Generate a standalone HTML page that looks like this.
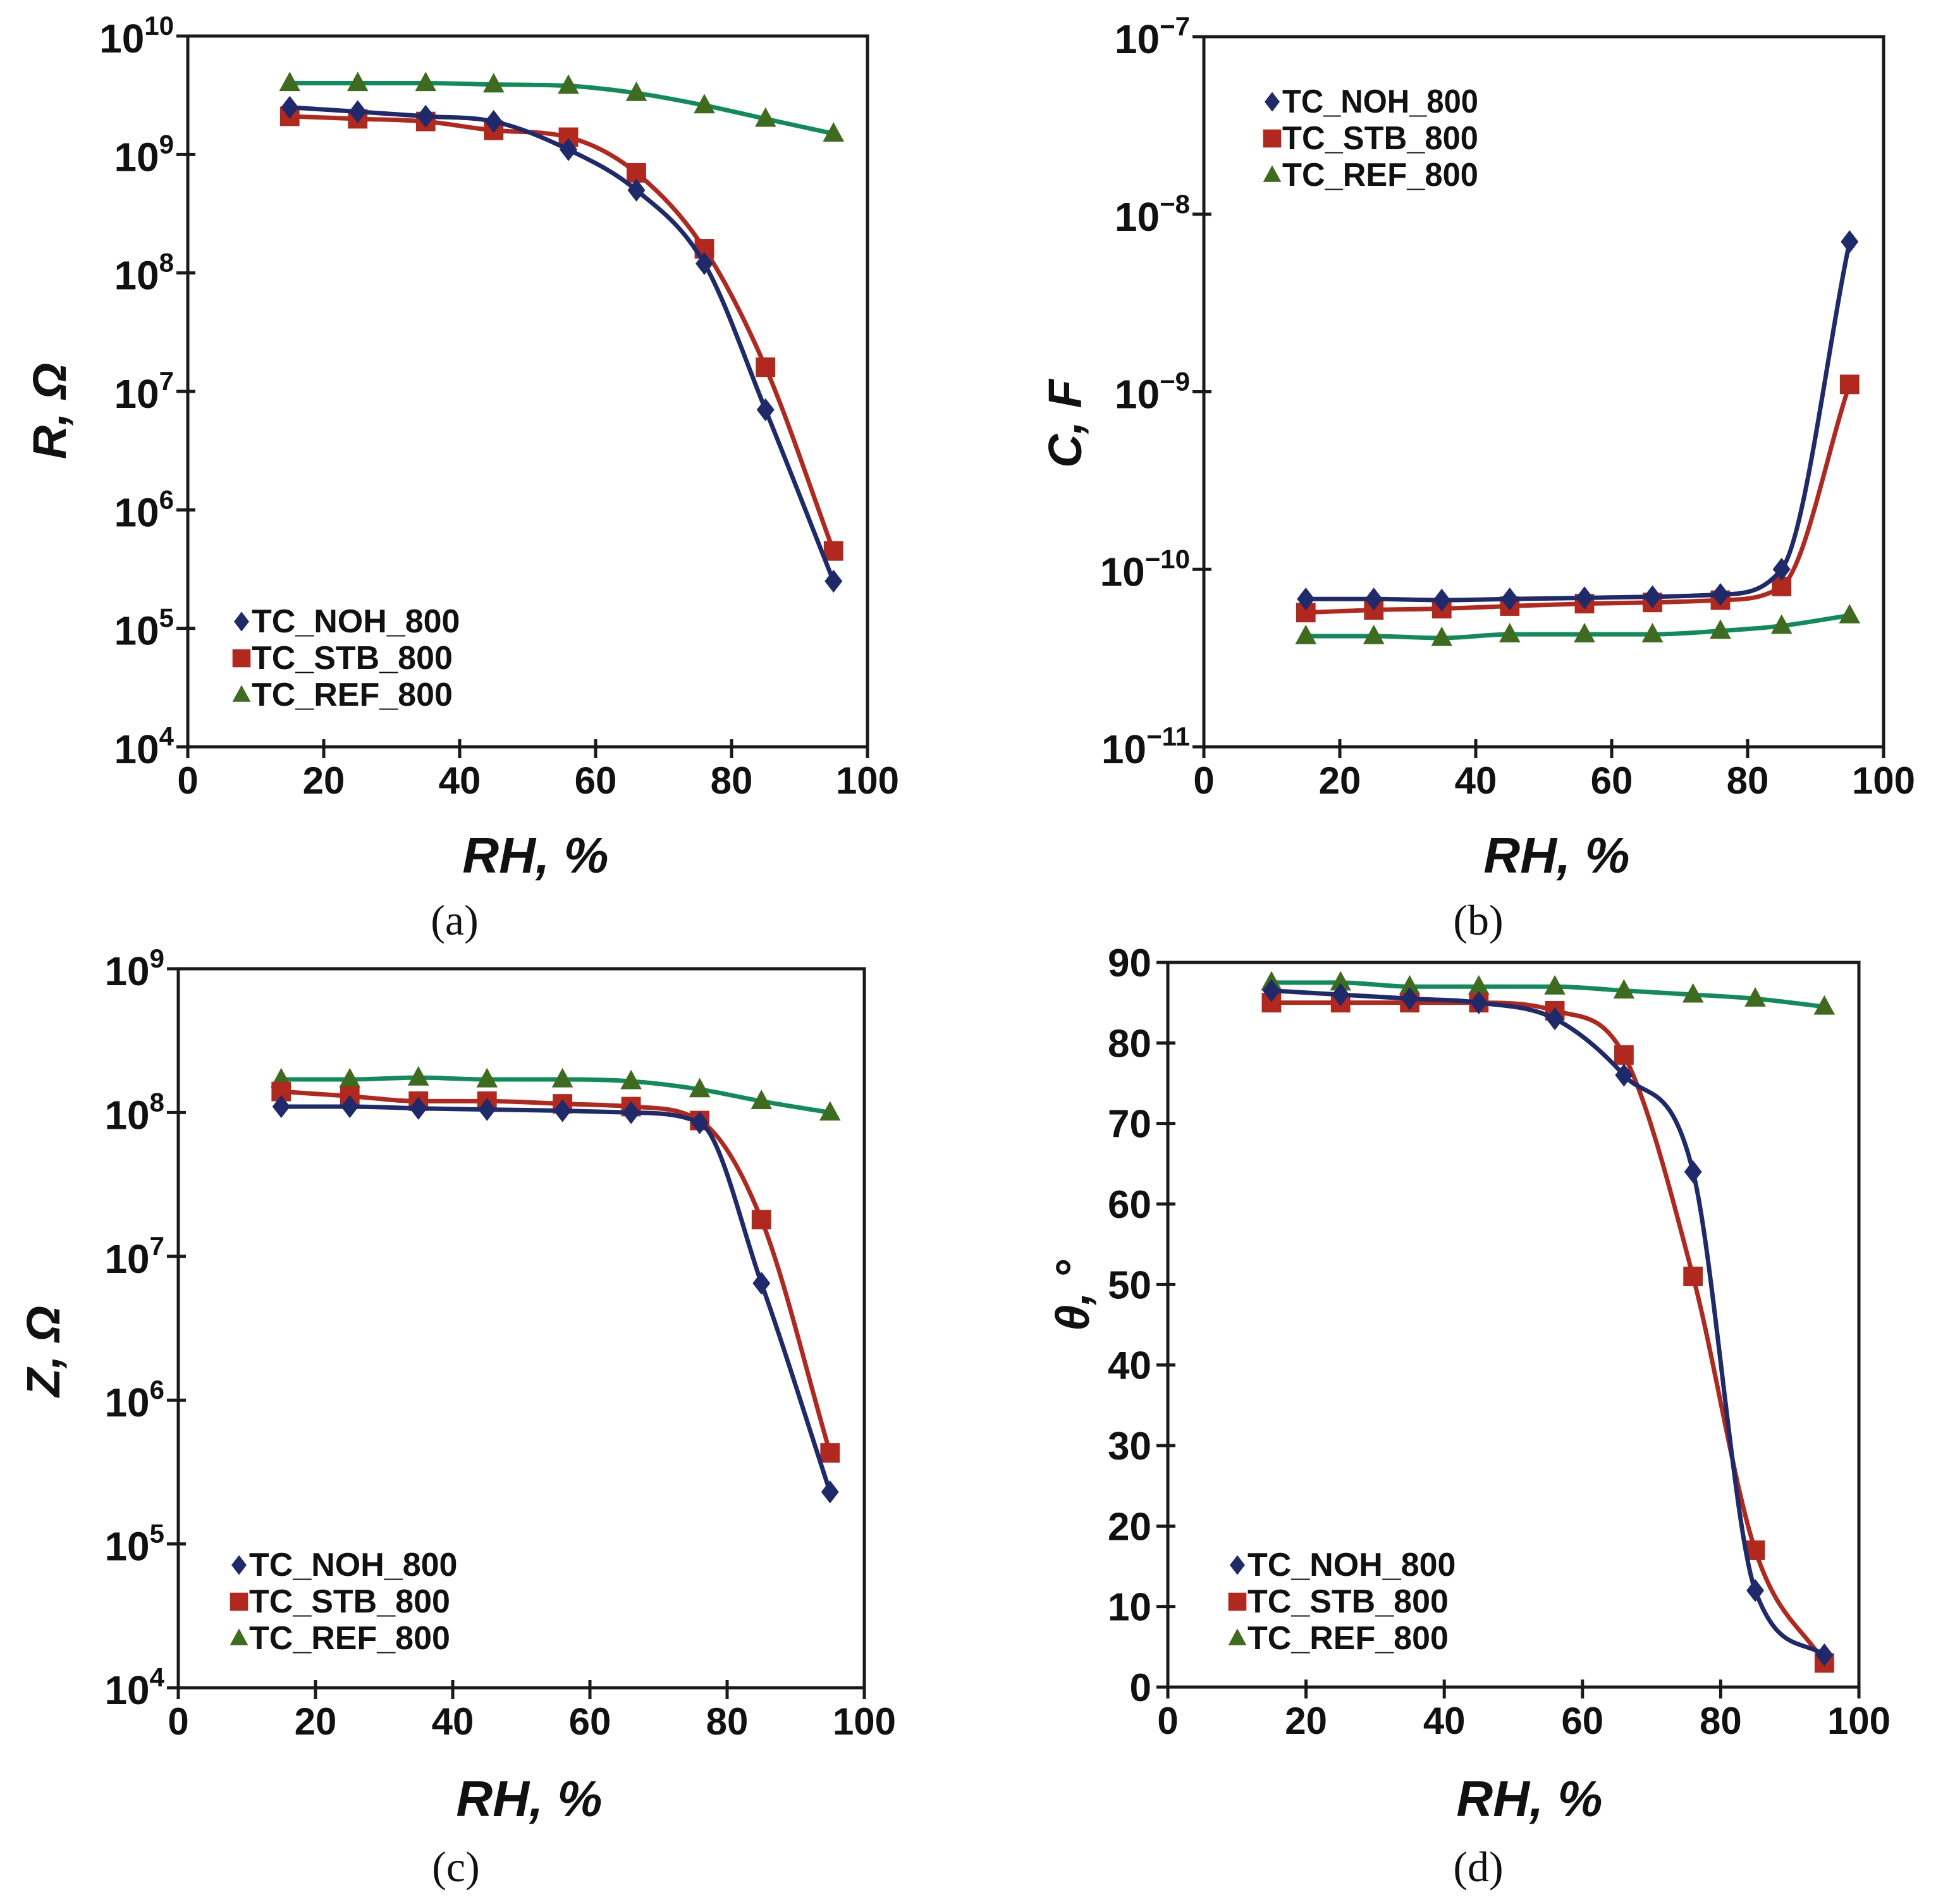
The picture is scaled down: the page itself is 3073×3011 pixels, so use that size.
<!DOCTYPE html>
<html><head><meta charset="utf-8"><style>
html,body{margin:0;padding:0;background:#fff;}
svg{display:block;font-family:"Liberation Sans",Arial,sans-serif;}
</style></head><body>
<svg id="fig" width="3073" height="3011" viewBox="0 0 3073 3011" xmlns="http://www.w3.org/2000/svg"></svg>
<script>
const rh = [15,25,35,45,56,66,76,85,95];
const xTicks = [0,20,40,60,80,100];
// panel a: R, Ohm
const aNOH = [2.5e9,2.3e9,2.1e9,1.9e9,1.1e9,5e8,1.2e8,7e6,2.5e5];
const aSTB = [2.1e9,2.0e9,1.9e9,1.6e9,1.4e9,7e8,1.6e8,1.6e7,4.5e5];
const aREF = [4e9,4e9,4e9,3.9e9,3.8e9,3.3e9,2.6e9,2e9,1.5e9];
const aExp = [4,5,6,7,8,9,10];
// panel b: C, F
const bNOH = [6.8e-11,6.8e-11,6.7e-11,6.8e-11,6.9e-11,7e-11,7.2e-11,1e-10,7e-9];
const bSTB = [5.7e-11,5.9e-11,6e-11,6.2e-11,6.4e-11,6.5e-11,6.7e-11,8e-11,1.1e-9];
const bREF = [4.2e-11,4.2e-11,4.1e-11,4.3e-11,4.3e-11,4.3e-11,4.5e-11,4.8e-11,5.5e-11];
const bExp = [-11,-10,-9,-8,-7];
// panel c: Z, Ohm
const cNOH = [1.1e8,1.1e8,1.07e8,1.05e8,1.03e8,1e8,8.5e7,6.5e6,2.3e5];
const cSTB = [1.4e8,1.3e8,1.2e8,1.2e8,1.15e8,1.1e8,8.8e7,1.8e7,4.3e5];
const cREF = [1.7e8,1.7e8,1.75e8,1.7e8,1.7e8,1.65e8,1.45e8,1.2e8,1e8];
const cExp = [4,5,6,7,8,9];
// panel d: theta
const dNOH = [86.5,86,85.5,85,83,76,64,12,4];
const dSTB = [85,85,85,85,84,78.5,51,17,3];
const dREF = [87.5,87.5,87,87,87,86.5,86,85.5,84.5];
const dTicks = [0,10,20,30,40,50,60,70,80,90];

const NS="http://www.w3.org/2000/svg";
const svg=document.getElementById('fig');
function mk(tag,attrs,parent){const e=document.createElementNS(NS,tag);for(const k in attrs)e.setAttribute(k,attrs[k]);(parent||svg).appendChild(e);return e;}
const COL={NOH:'#1f2a6b',STB:'#b0281e',REF:'#3f6b1f',REFLINE:'#138a5a'};

// monotone cubic (Fritsch-Carlson)
function spline(pts){
  const n=pts.length,dx=[],s=[],m=[];
  for(let i=0;i<n-1;i++){dx[i]=pts[i+1][0]-pts[i][0];s[i]=(pts[i+1][1]-pts[i][1])/dx[i];}
  m[0]=s[0];m[n-1]=s[n-2];
  for(let i=1;i<n-1;i++){m[i]=(s[i-1]*s[i]<=0)?0:(s[i-1]+s[i])/2;}
  for(let i=0;i<n-1;i++){
    if(s[i]===0){m[i]=0;m[i+1]=0;continue;}
    const a=m[i]/s[i],b=m[i+1]/s[i],h=a*a+b*b;
    if(h>9){const t=3/Math.sqrt(h);m[i]=t*a*s[i];m[i+1]=t*b*s[i];}
  }
  let d='M'+pts[0][0]+','+pts[0][1];
  for(let i=0;i<n-1;i++){
    const h=dx[i]/3;
    d+=' C'+(pts[i][0]+h)+','+(pts[i][1]+m[i]*h)+' '+(pts[i+1][0]-h)+','+(pts[i+1][1]-m[i+1]*h)+' '+pts[i+1][0]+','+pts[i+1][1];
  }
  return d;
}
function marker(g,type,x,y,s){
  let e;
  if(type==='NOH'){e=mk('polygon',{points:`${x},${y-s*0.65} ${x+s*0.5},${y} ${x},${y+s*0.65} ${x-s*0.5},${y}`,fill:COL.NOH},g);}
  else if(type==='STB'){e=mk('rect',{x:x-s*0.55,y:y-s*0.55,width:s*1.1,height:s*1.1,fill:COL.STB},g);}
  else {e=mk('polygon',{points:`${x},${y-s*0.65} ${x+s*0.6},${y+s*0.45} ${x-s*0.6},${y+s*0.45}`,fill:COL.REF},g);}
  
  
  return e;
}

function panel(o){
  const g=mk('g',{});
  
  
  const X=v=>o.x0+(o.x1-o.x0)*v/100;
  const Y=o.log?(v=>o.yb-(o.yb-o.yt)*(Math.log10(v)-o.ymin)/(o.ymax-o.ymin))
               :(v=>o.yb-(o.yb-o.yt)*(v-o.ymin)/(o.ymax-o.ymin));
  const frame=mk('rect',{x:o.x0,y:o.yt,width:o.x1-o.x0,height:o.yb-o.yt,fill:'none',stroke:'#1a1a1a','stroke-width':5},g);
  
  
  xTicks.forEach(t=>{
    mk('line',{x1:X(t),x2:X(t),y1:o.yb-12,y2:o.yb+18,stroke:'#1a1a1a','stroke-width':5},g);
    const tx=mk('text',{x:X(t),y:o.yb+74,'font-size':60,'font-weight':'bold','text-anchor':'middle',fill:'#111'},g);
    tx.textContent=t;
    
    
  });
  if(o.log){
    o.exps.forEach(e=>{
      const y=Y(Math.pow(10,e));
      mk('line',{x1:o.x0-18,x2:o.x0+12,y1:y,y2:y,stroke:'#1a1a1a','stroke-width':5},g);
      const tx=mk('text',{x:o.x0-22,y:y+26,'font-size':64,'font-weight':'bold','text-anchor':'end',fill:'#111'},g);
      
      
      const a=mk('tspan',{},tx);a.textContent='10';
      const b=mk('tspan',{dy:-28,'font-size':42},tx);b.textContent=(e<0?'\u2212':'')+Math.abs(e);
    });
  } else {
    o.ticks.forEach(t=>{
      const y=Y(t);
      mk('line',{x1:o.x0-18,x2:o.x0+12,y1:y,y2:y,stroke:'#1a1a1a','stroke-width':5},g);
      const tx=mk('text',{x:o.x0-26,y:y+22,'font-size':62,'font-weight':'bold','text-anchor':'end',fill:'#111'},g);
      tx.textContent=t;
      
      
    });
  }
  [['REF',o.REF],['STB',o.STB],['NOH',o.NOH]].forEach(([k,vals])=>{
    const pts=vals.map((v,i)=>[X(rh[i]),Y(v)]);
    const p=mk('path',{d:spline(pts),fill:'none',stroke:k==='REF'?COL.REFLINE:COL[k],'stroke-width':7,'stroke-linejoin':'round'},g);
    
    
    pts.forEach(q=>marker(g,k,q[0],q[1],28));
  });
  const lg=mk('g',{},g);
  
  
  [['NOH','TC_NOH_800'],['STB','TC_STB_800'],['REF','TC_REF_800']].forEach(([k,lab],i)=>{
    const y=o.ly+i*58;
    marker(lg,k,o.lx+12,y-17,k==='STB'?26:24);
    const t=mk('text',{x:o.lx+28,y:y,'font-size':52,'font-weight':'bold',fill:'#111'},lg);
    if(o.condensed){t.setAttribute('textLength',310);t.setAttribute('lengthAdjust','spacingAndGlyphs');}
    t.textContent=lab;
    
    
  });
  const xt=mk('text',{x:o.xtx,y:o.xty,'font-size':80,'font-weight':'bold','font-style':'italic','text-anchor':'middle',fill:'#111'},g);
  xt.textContent='RH, %';
  
  
  const yt=mk('text',{x:0,y:0,transform:`translate(${o.ytx},${o.yty}) rotate(-90)`,'font-size':74,'font-weight':'bold','font-style':'italic','text-anchor':'middle',fill:'#111'},g);
  yt.textContent=o.ytitle;
  
  
  const pl=mk('text',{x:o.plx,y:o.ply,'font-size':68,'text-anchor':'middle',fill:'#111','font-family':'Liberation Serif, serif'},g);
  pl.textContent='('+o.id+')';
  
  
}

panel({id:'a',log:true,x0:297,x1:1372,yt:57,yb:1181,ymin:4,ymax:10,exps:aExp,NOH:aNOH,STB:aSTB,REF:aREF,
  lx:370,ly:1000,xtx:847,xty:1380,ytx:104,yty:650,ytitle:'R, \u03A9',plx:719,ply:1478});
panel({id:'b',log:true,x0:1904,x1:2979,yt:58,yb:1181,ymin:-11,ymax:-7,exps:bExp,NOH:bNOH,STB:bSTB,REF:bREF,
  lx:2000,ly:178,condensed:true,xtx:2462,xty:1380,ytx:1710,yty:670,ytitle:'C, F',plx:2338,ply:1478});
panel({id:'c',log:true,x0:282,x1:1367,yt:1532,yb:2669,ymin:4,ymax:9,exps:cExp,NOH:cNOH,STB:cSTB,REF:cREF,
  lx:366,ly:2492,xtx:837,xty:2872,ytx:94,yty:2137,ytitle:'Z, \u03A9',plx:721,ply:2975});
panel({id:'d',log:false,x0:1847,x1:2940,yt:1522,yb:2668,ymin:0,ymax:90,ticks:dTicks,NOH:dNOH,STB:dSTB,REF:dREF,
  lx:1945,ly:2492,xtx:2419,xty:2872,ytx:1722,yty:2049,ytitle:'\u03B8, \u00B0',plx:2338,ply:2975});
</script>
</body></html>
